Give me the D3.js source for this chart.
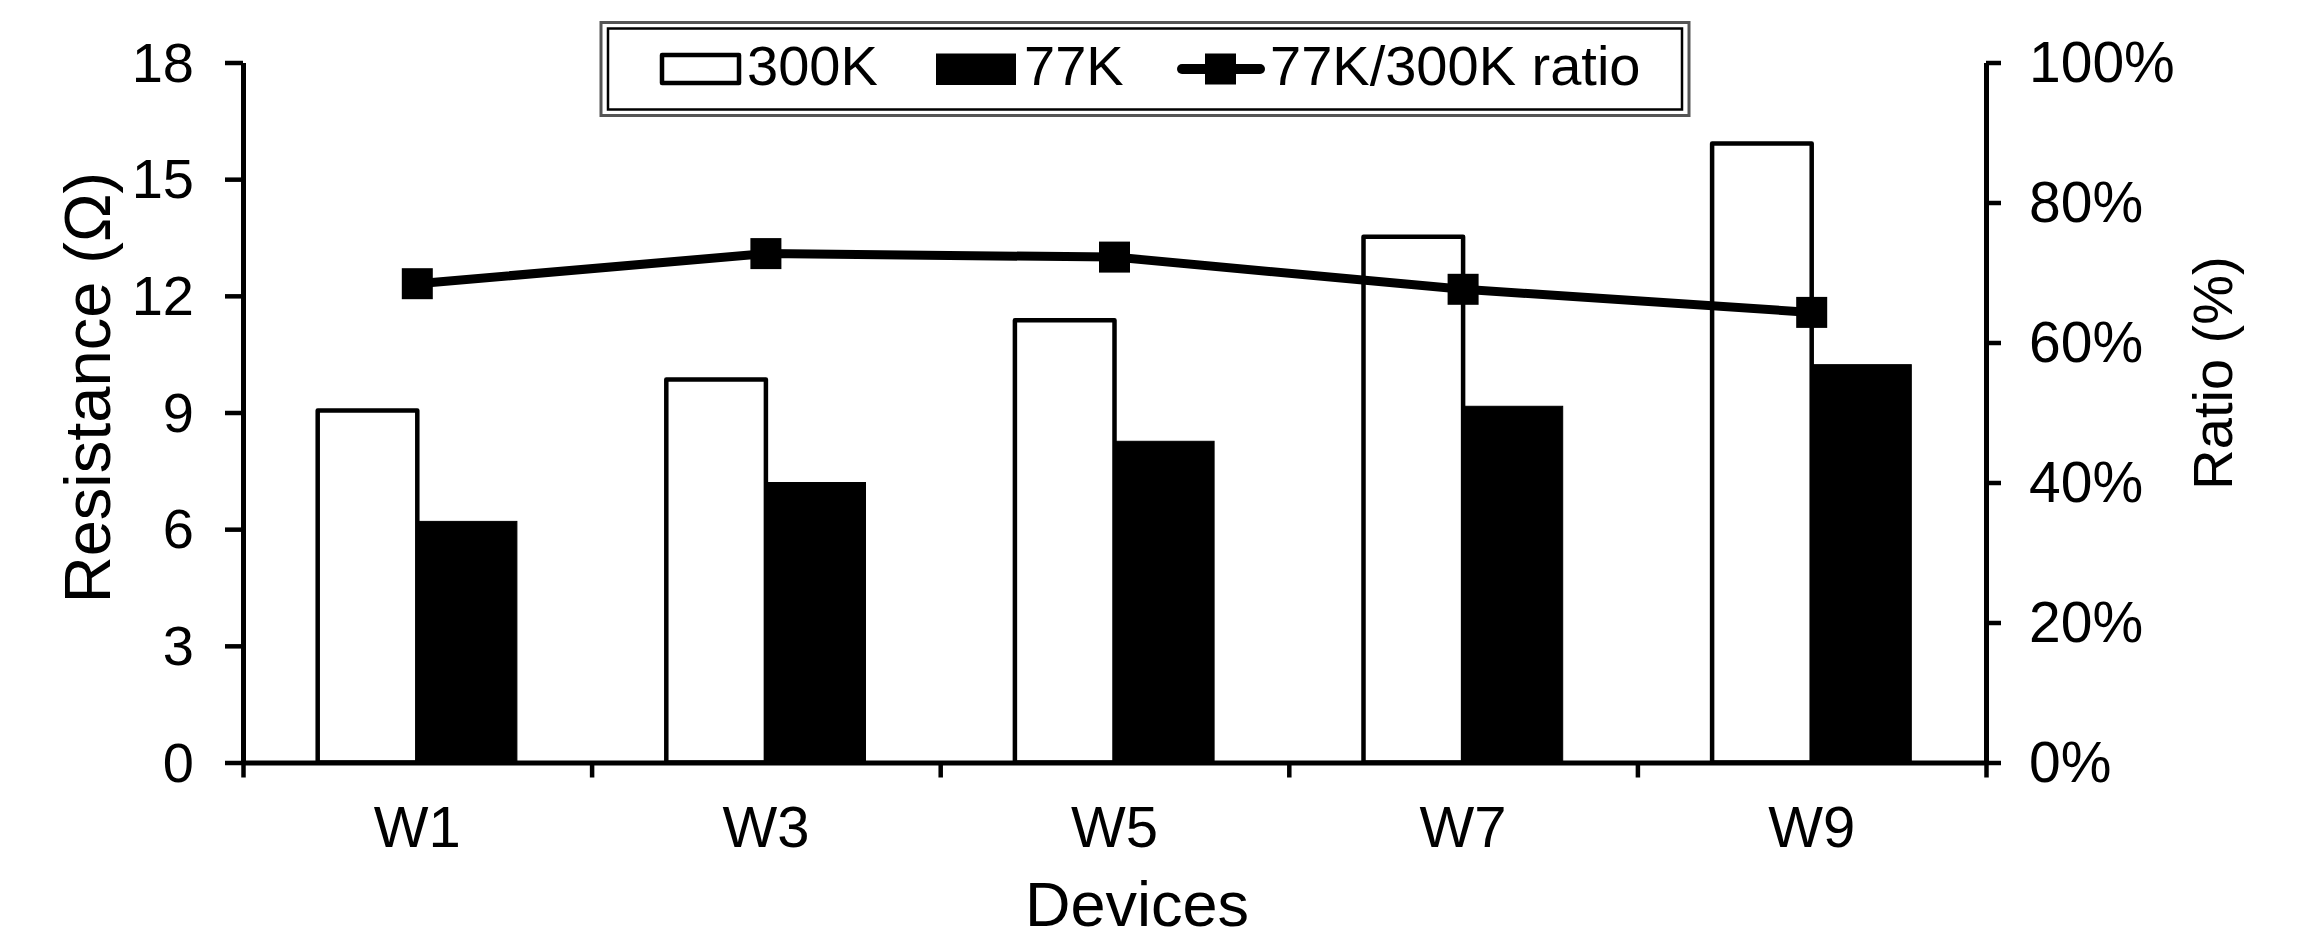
<!DOCTYPE html>
<html>
<head>
<meta charset="utf-8">
<script src="https://cdn.jsdelivr.net/npm/d3@7/dist/d3.min.js"></script>
<style>
  html, body { margin: 0; padding: 0; background: #fff; }
  svg { display: block; }
  text { font-family: Arial, "Liberation Sans", sans-serif; fill: #000; }
</style>
</head>
<body>
<svg id="chart" width="2314" height="933"></svg>
<script>
// ---- data ----
const categories = ["W1", "W3", "W5", "W7", "W9"];
const res300K = [9.05, 9.85, 11.37, 13.52, 15.92];
const res77K = [6.2, 7.2, 8.26, 9.16, 10.23];
const ratio = [0.684, 0.727, 0.722, 0.676, 0.643];
const leftTicks = [0, 3, 6, 9, 12, 15, 18];
const rightTicks = [0, 0.2, 0.4, 0.6, 0.8, 1.0];
const legendLabels = ["300K", "77K", "77K/300K ratio"];

// ---- layout ----
const svg = d3.select("#chart");
const plot = { left: 243, right: 1986, top: 62.5, bottom: 762.5 };

const x = d3.scaleBand().domain(categories).range([plot.left, plot.right]).padding(0);
const yL = d3.scaleLinear().domain([0, 18]).range([plot.bottom, plot.top]);
const yR = d3.scaleLinear().domain([0, 1]).range([plot.bottom, plot.top]);

const bw = x.bandwidth();
const barW = bw / 3.5;
const off = barW * 0.75;

// bars 300K (white)
svg.append("g").selectAll("rect").data(categories).join("rect")
  .attr("x", (d) => x(d) + off)
  .attr("y", (d, i) => yL(res300K[i]))
  .attr("width", barW)
  .attr("height", (d, i) => yL(0) - yL(res300K[i]))
  .attr("fill", "#fff").attr("stroke", "#000").attr("stroke-width", 4.5)
  .attr("stroke-linejoin", "round");

// bars 77K (black)
svg.append("g").selectAll("rect").data(categories).join("rect")
  .attr("x", (d) => x(d) + off + barW)
  .attr("y", (d, i) => yL(res77K[i]))
  .attr("width", barW)
  .attr("height", (d, i) => yL(0) - yL(res77K[i]))
  .attr("fill", "#000").attr("stroke", "#000").attr("stroke-width", 1);

// axes
function styleAxis(g) {
  g.selectAll("path.domain").attr("stroke", "#000").attr("stroke-width", 5);
  g.selectAll(".tick line").attr("stroke", "#000").attr("stroke-width", 4.5);
  g.selectAll(".tick text").remove();
}
const gL = svg.append("g").attr("transform", `translate(${plot.left},0)`)
  .call(d3.axisLeft(yL).tickValues(leftTicks).tickSizeOuter(0).tickSizeInner(18));
styleAxis(gL);
const gR = svg.append("g").attr("transform", `translate(${plot.right},0)`)
  .call(d3.axisRight(yR).tickValues(rightTicks).tickSizeOuter(0).tickSizeInner(15));
styleAxis(gR);
const bandEdges = categories.map((c) => x(c)).concat([plot.right]);
const xEdge = d3.scaleLinear().domain([plot.left, plot.right]).range([plot.left, plot.right]);
const gX = svg.append("g").attr("transform", `translate(0,${plot.bottom})`)
  .call(d3.axisBottom(xEdge).tickValues(bandEdges).tickSizeOuter(0).tickSizeInner(15));
styleAxis(gX);

// tick labels
svg.append("g").selectAll("text").data(leftTicks).join("text")
  .attr("x", 194).attr("y", (d) => yL(d) + 19)
  .attr("text-anchor", "end").attr("font-size", 56).text((d) => d);
svg.append("g").selectAll("text").data(rightTicks).join("text")
  .attr("x", 2029).attr("y", (d) => yR(d) + 19)
  .attr("text-anchor", "start").attr("font-size", 57).text((d) => d3.format(".0%")(d));
svg.append("g").selectAll("text").data(categories).join("text")
  .attr("x", (d) => x(d) + bw / 2).attr("y", 847)
  .attr("text-anchor", "middle").attr("font-size", 58).text((d) => d);

// axis titles
svg.append("text").attr("transform", "translate(110,387.5) rotate(-90)")
  .attr("text-anchor", "middle").attr("font-size", 65).text("Resistance (Ω)");
svg.append("text").attr("transform", "translate(2232,373) rotate(-90)")
  .attr("text-anchor", "middle").attr("font-size", 56).text("Ratio (%)");
svg.append("text").attr("x", 1137).attr("y", 926)
  .attr("text-anchor", "middle").attr("font-size", 63).text("Devices");

// ratio line
const line = d3.line().x((d, i) => x(categories[i]) + bw / 2).y((d) => yR(d));
svg.append("path").datum(ratio).attr("d", line)
  .attr("fill", "none").attr("stroke", "#000").attr("stroke-width", 9)
  .attr("stroke-linejoin", "round");
const ms = 31;
svg.append("g").selectAll("rect").data(ratio).join("rect")
  .attr("x", (d, i) => x(categories[i]) + bw / 2 - ms / 2)
  .attr("y", (d) => yR(d) - ms / 2)
  .attr("width", ms).attr("height", ms).attr("fill", "#000");

// legend
const lg = svg.append("g");
lg.append("rect").attr("x", 601).attr("y", 22.5).attr("width", 1088).attr("height", 93)
  .attr("fill", "#fff").attr("stroke", "#555").attr("stroke-width", 3);
lg.append("rect").attr("x", 608).attr("y", 28.5).attr("width", 1074).attr("height", 81)
  .attr("fill", "none").attr("stroke", "#000").attr("stroke-width", 2.5);
lg.append("rect").attr("x", 662).attr("y", 55).attr("width", 77).attr("height", 28)
  .attr("fill", "#fff").attr("stroke", "#000").attr("stroke-width", 4.5)
  .attr("stroke-linejoin", "round");
lg.append("text").attr("x", 747).attr("y", 85).attr("font-size", 56).text(legendLabels[0]);
lg.append("rect").attr("x", 936).attr("y", 53.5).attr("width", 80).attr("height", 31.5)
  .attr("fill", "#000");
lg.append("text").attr("x", 1024).attr("y", 85).attr("font-size", 56).text(legendLabels[1]);
lg.append("line").attr("x1", 1182).attr("x2", 1260).attr("y1", 69).attr("y2", 69)
  .attr("stroke", "#000").attr("stroke-width", 10).attr("stroke-linecap", "round");
lg.append("rect").attr("x", 1205).attr("y", 53.5).attr("width", 31).attr("height", 31)
  .attr("fill", "#000");
lg.append("text").attr("x", 1270).attr("y", 85).attr("font-size", 56).text(legendLabels[2]);
</script>
</body>
</html>
